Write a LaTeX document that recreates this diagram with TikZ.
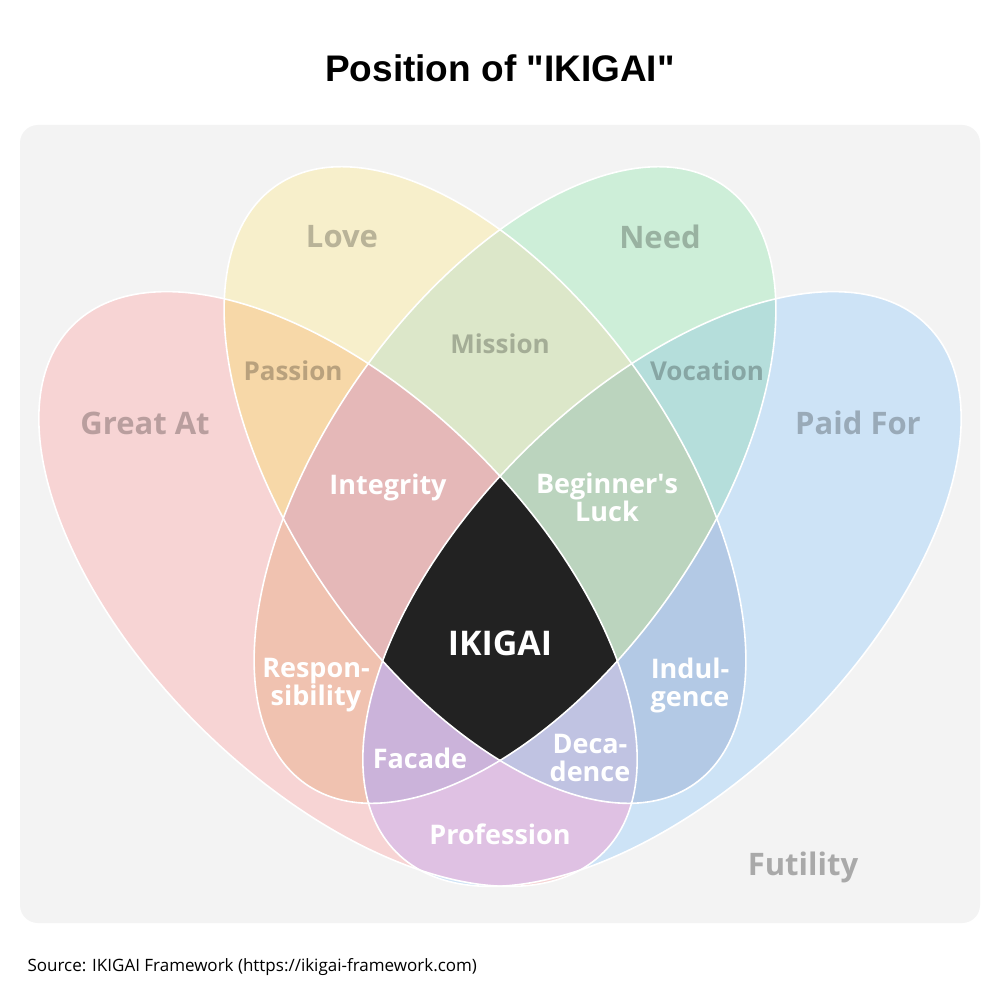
\documentclass[tikz,border=0pt]{standalone}
\usepackage{fontspec}
\setmainfont{Open Sans}
\newfontfamily\titlefont{Liberation Sans}
\begin{document}
\begin{tikzpicture}[x=1pt,y=-1pt,
  lab/.style={font=\fontsize{27}{30}\selectfont\bfseries, text=white, align=center},
  olab/.style={font=\fontsize{31}{34}\selectfont\bfseries, text=black, text opacity=0.25, align=center},
  ilab/.style={font=\fontsize{26}{30}\selectfont\bfseries, text=black, text opacity=0.25, align=center},
  edge/.style={draw=white, line width=1.6pt}]
\definecolor{bg}{HTML}{F3F3F3}
\definecolor{cP}{HTML}{F7D4D4}\definecolor{cY}{HTML}{F7EFCB}
\definecolor{cG}{HTML}{CDEED8}\definecolor{cB}{HTML}{CDE3F6}
\definecolor{cPY}{HTML}{F7D8A8}\definecolor{cYG}{HTML}{DCE7C9}
\definecolor{cGB}{HTML}{B5DEDB}\definecolor{cPG}{HTML}{F0C2B0}
\definecolor{cYB}{HTML}{B3C9E5}\definecolor{cPB}{HTML}{DFC1E3}
\definecolor{cPYG}{HTML}{E5B8B8}\definecolor{cYGB}{HTML}{BBD4BE}
\definecolor{cPGB}{HTML}{CBB3DA}\definecolor{cPYB}{HTML}{C0C3E2}
\definecolor{cQ}{HTML}{222222}
\useasboundingbox (0,0) rectangle (1000,1003);
\fill[white] (0,0) rectangle (1000,1003);
\fill[bg, rounded corners=18pt] (20,125) rectangle (980,923);
\def\pP{[shift={(338,589)},rotate=-44.7] (0,0) ellipse (374 and 195)}
\def\pB{[shift={(662,589)},rotate=44.7] (0,0) ellipse (374 and 195)}
\def\pY{[shift={(485,485)},rotate=-55] (0,0) ellipse (365 and 190)}
\def\pG{[shift={(515,485)},rotate=55] (0,0) ellipse (365 and 190)}
% singles
\fill[cP] \pP; \fill[cB] \pB; \fill[cY] \pY; \fill[cG] \pG;
% pairs
\begin{scope}\clip \pP; \fill[cPY] \pY; \fill[cPG] \pG; \fill[cPB] \pB; \end{scope}
\begin{scope}\clip \pY; \fill[cYG] \pG; \fill[cYB] \pB; \end{scope}
\begin{scope}\clip \pG; \fill[cGB] \pB; \end{scope}
% triples
\begin{scope}\clip \pP; \clip \pY; \fill[cPYG] \pG; \fill[cPYB] \pB; \end{scope}
\begin{scope}\clip \pG; \clip \pB; \fill[cYGB] \pY; \fill[cPGB] \pP; \end{scope}
% quad
\begin{scope}\clip \pP; \clip \pY; \clip \pG; \fill[cQ] \pB; \end{scope}
% outlines
\draw[edge] \pP; \draw[edge] \pB; \draw[edge] \pY; \draw[edge] \pG;
% texts
\node[font=\titlefont\fontsize{37}{40}\selectfont\bfseries] (title) at (500,68) {Position of \textquotedbl IKIGAI\textquotedbl};
\node[olab] (love) at (342,237) {Love};
\node[olab] (need) at (660,237) {Need};
\node[olab] (great) at (145,423) {Great At};
\node[olab] (paid) at (858,423) {Paid For};
\node[olab, text opacity=0.3] (fut) at (803,867) {Futility};
\node[ilab] (passion) at (293,371) {Passion};
\node[ilab] (mission) at (500,344) {Mission};
\node[ilab] (vocation) at (707,371) {Vocation};
\node[lab] (integ) at (388,487) {Integrity};
\node[lab] (luck) at (607,497) {Beginner\textquotesingle s\\[-2pt]Luck};
\node[lab, font=\fontsize{34}{38}\selectfont\bfseries] (iki) at (500,643) {IKIGAI};
\node[lab] (resp) at (316,685) {Respon-\\[-2pt]sibility};
\node[lab] (indul) at (690,685) {Indul-\\[-2pt]gence};
\node[lab] (facade) at (420,758) {Facade};
\node[lab] (deca) at (590,758) {Deca-\\[-2pt]dence};
\node[lab] (prof) at (500,834) {Profession};
\node[anchor=west, font=\fontsize{17}{20}\selectfont] (src) at (24,967) {Source: IKIGAI Framework (https://ikigai-framework.com)};
\end{tikzpicture}
\end{document}
